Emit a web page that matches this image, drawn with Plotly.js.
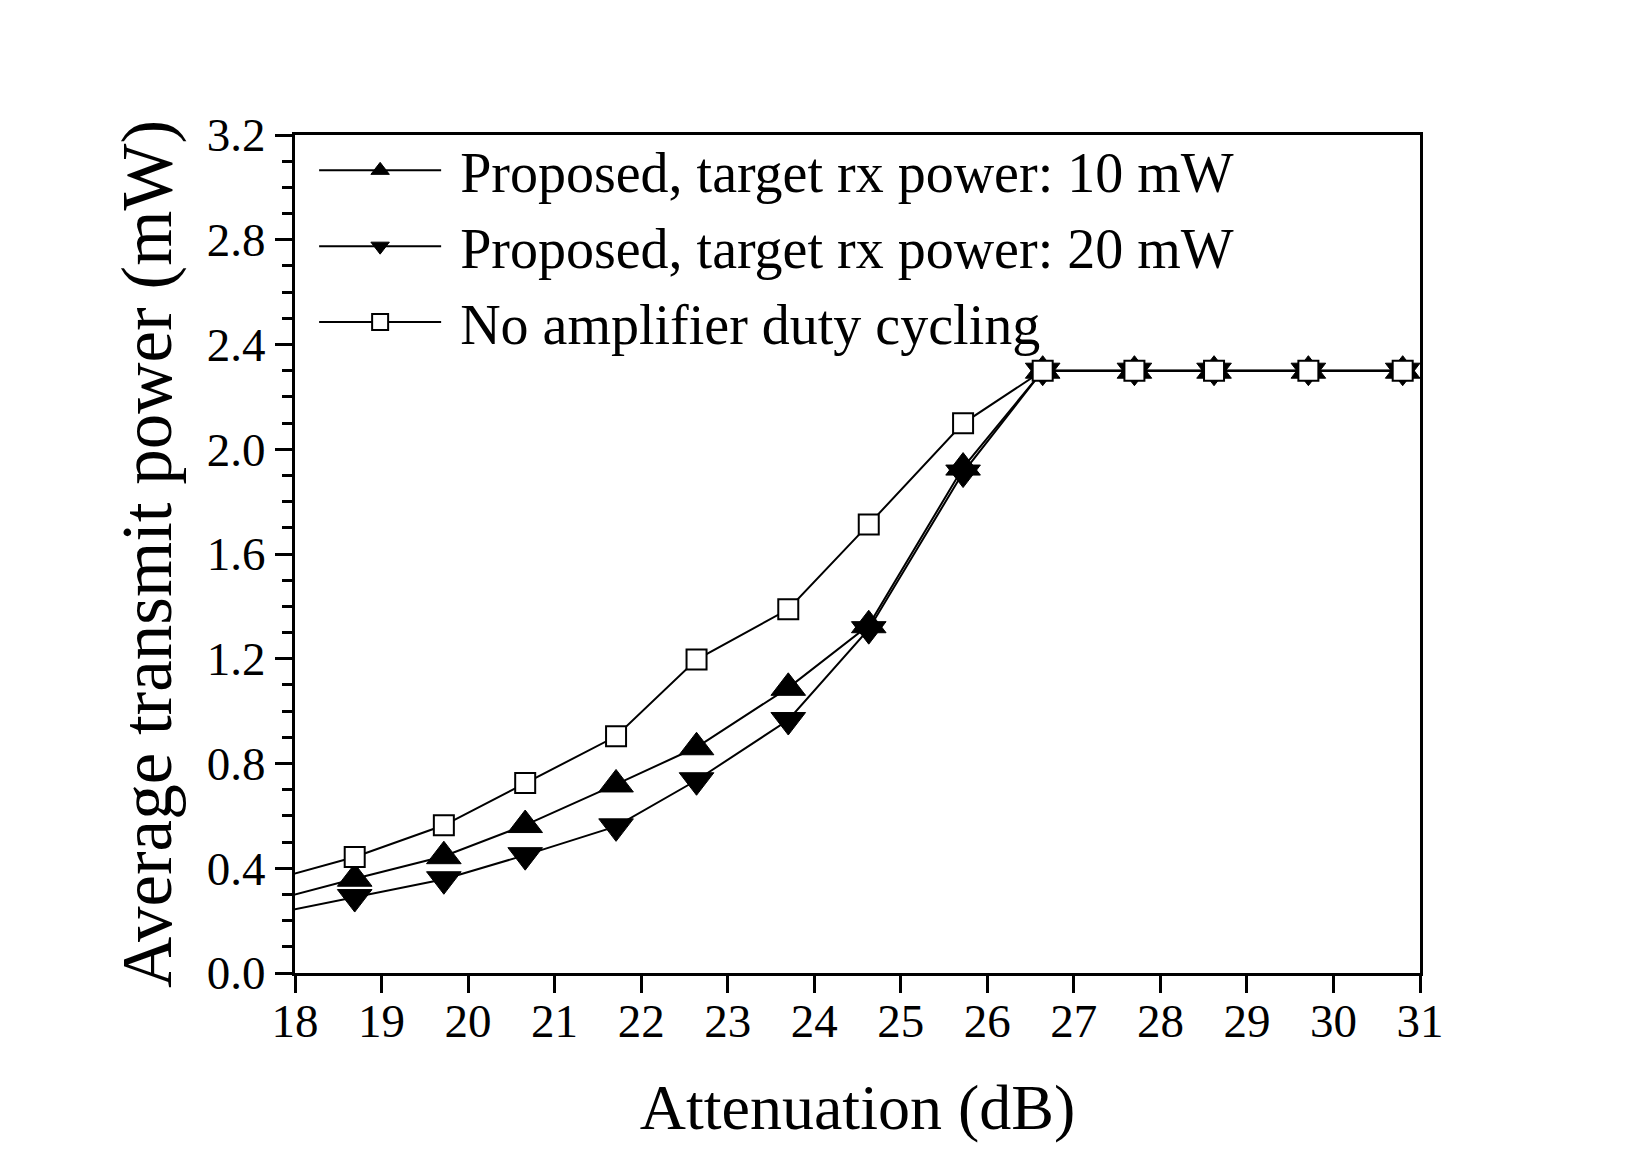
<!DOCTYPE html>
<html>
<head>
<meta charset="utf-8">
<script src="https://cdn.plot.ly/plotly-3.0.1.min.js"></script>
<style>html,body{margin:0;padding:0;background:#fff;}#chart{width:1650px;height:1167px;}</style>
</head>
<body>
<div id="chart"></div>
<script>
// Attenuation (dB) — first point lies just left of the visible axis range
const attenuation = [17.66, 18.69, 19.72, 20.66, 21.71, 22.64, 23.70, 24.63, 25.72, 26.64, 27.70, 28.62, 29.71, 30.80];
const proposed10mW = [0.27, 0.36, 0.446, 0.565, 0.72, 0.862, 1.089, 1.328, 1.93, 2.30, 2.30, 2.30, 2.30, 2.30];
const proposed20mW = [0.221, 0.29, 0.358, 0.45, 0.56, 0.736, 0.966, 1.313, 1.911, 2.30, 2.30, 2.30, 2.30, 2.30];
const noDutyCycling = [0.349, 0.443, 0.564, 0.726, 0.904, 1.197, 1.389, 1.713, 2.099, 2.30, 2.30, 2.30, 2.30, 2.30];
const seriesNames = [
  "Proposed, target rx power: 10 mW",
  "Proposed, target rx power: 20 mW",
  "No amplifier duty cycling"
];
const yTickVals = [0.0, 0.4, 0.8, 1.2, 1.6, 2.0, 2.4, 2.8, 3.2];
const xTickVals = [18, 19, 20, 21, 22, 23, 24, 25, 26, 27, 28, 29, 30, 31];

const FONT = "Liberation Serif, Times New Roman, serif";
const NB = "\u00a0";

const traces = [
  {
    x: attenuation, y: proposed10mW, name: NB + seriesNames[0], legendgroup: "a",
    mode: "lines+markers", type: "scatter",
    line: {color: "#000", width: 2},
    marker: {symbol: "triangle-up", size: 30, color: "#000", line: {color: "#000", width: 1}}
  },
  {
    x: attenuation, y: proposed20mW, name: NB + seriesNames[1], legendgroup: "b",
    mode: "lines+markers", type: "scatter",
    line: {color: "#000", width: 2},
    marker: {symbol: "triangle-down", size: 30, color: "#000", line: {color: "#000", width: 1}}
  },
  {
    x: attenuation, y: noDutyCycling, name: NB + seriesNames[2], legendgroup: "c",
    mode: "lines+markers", type: "scatter",
    line: {color: "#000", width: 2},
    marker: {symbol: "square", size: 20, color: "#fff", line: {color: "#000", width: 2}}
  }
];

const layout = {
  width: 1650, height: 1167,
  paper_bgcolor: "#fff", plot_bgcolor: "#fff",
  margin: {l: 295, r: 230, t: 135, b: 194, pad: 0},
  font: {family: FONT, color: "#000", size: 46},
  showlegend: true,
  legend: {
    x: 0.017, y: 1.009, xanchor: "left", yanchor: "top",
    bgcolor: "rgba(0,0,0,0)", borderwidth: 0,
    font: {family: FONT, size: 56, color: "#000"},
    itemwidth: 122, tracegroupgap: 0,
    traceorder: "normal"
  },
  xaxis: {
    range: [18, 31], tickmode: "array", tickvals: xTickVals,
    ticks: "outside", ticklen: 17, tickwidth: 3, tickcolor: "#000",
    ticklabelstandoff: -12,
    showline: true, linewidth: 3, linecolor: "#000", mirror: true,
    showgrid: false, zeroline: false,
    tickfont: {family: FONT, size: 47, color: "#000"},
    title: {text: "Attenuation (dB)", font: {family: FONT, size: 64, color: "#000"}, standoff: 38}
  },
  yaxis: {
    range: [0, 3.2], tickmode: "array", tickvals: yTickVals, tickformat: ".1f",
    ticks: "outside", ticklen: 17, tickwidth: 3, tickcolor: "#000",
    minor: {dtick: 0.1, ticks: "outside", ticklen: 10, tickwidth: 3, tickcolor: "#000", showgrid: false},
    showline: true, linewidth: 3, linecolor: "#000", mirror: true,
    showgrid: false, zeroline: false,
    tickfont: {family: FONT, size: 47, color: "#000"},
    title: {text: "Average transmit power (mW)" + NB, font: {family: FONT, size: 71, color: "#000"}, standoff: 12}
  }
};

Plotly.newPlot("chart", traces, layout, {displayModeBar: false, staticPlot: true});
</script>
</body>
</html>
